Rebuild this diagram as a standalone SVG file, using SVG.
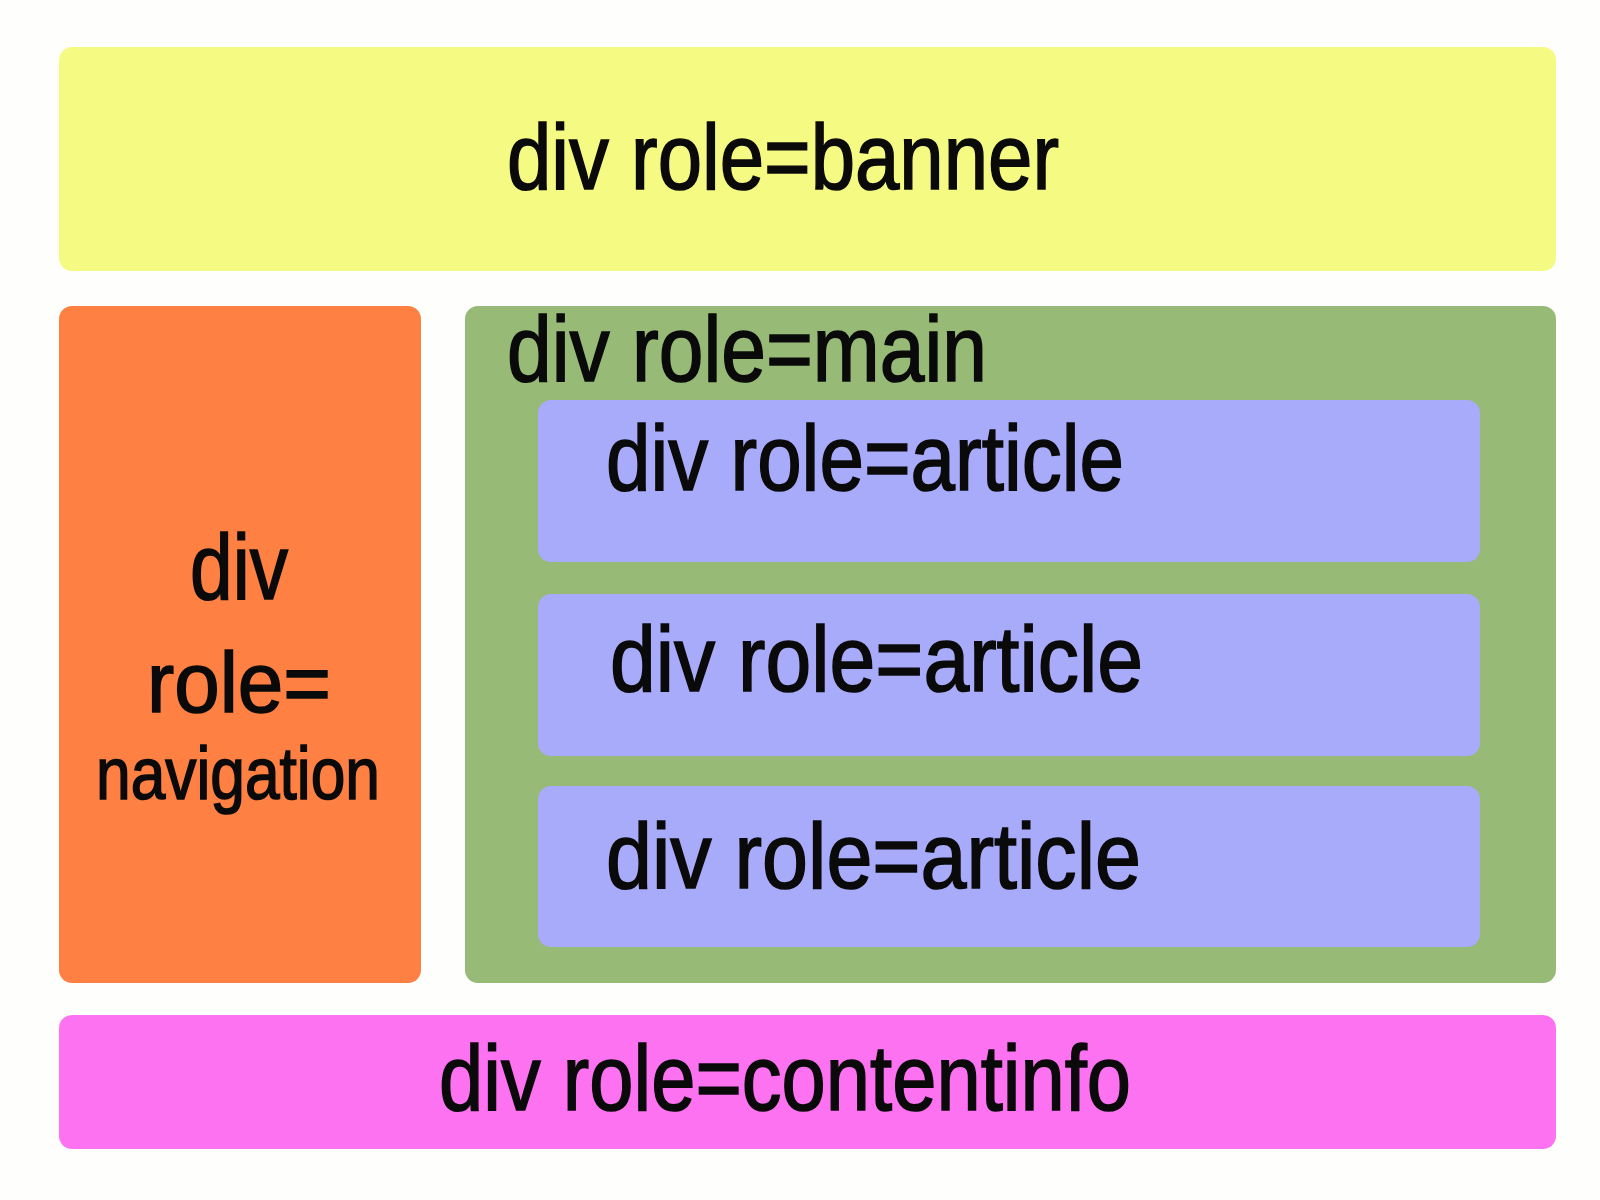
<svg xmlns="http://www.w3.org/2000/svg" width="1600" height="1200" viewBox="0 0 1600 1200">
  <style>
    .box { stroke: none; }
    .lbl { font-family: "Liberation Sans", Arial, sans-serif; font-size: 92px; fill: #0a0a0a; stroke: #0a0a0a; stroke-width: 1.6px; }
    .banner { fill: #F5FB82; }
    .nav { fill: #FE8042; }
    .main { fill: #97BA76; }
    .article { fill: #A8AAFA; }
    .info { fill: #FD72F1; }
  </style>
  <rect x="0" y="0" width="1600" height="1200" fill="#FEFEFC"/>
  <g id="banner">
    <rect class="box banner" x="59" y="47" width="1497" height="224" rx="13"/>
    <text class="lbl" x="507" y="189" textLength="552" lengthAdjust="spacingAndGlyphs">div role=banner</text>
  </g>
  <g id="navigation">
    <rect class="box nav" x="59" y="306" width="362" height="677" rx="13"/>
    <text class="lbl" x="190" y="599" textLength="98" lengthAdjust="spacingAndGlyphs">div</text>
    <text class="lbl" x="147" y="712" style="font-size:86px" textLength="184" lengthAdjust="spacingAndGlyphs">role=</text>
    <text class="lbl" x="96" y="799" style="font-size:74px" textLength="284" lengthAdjust="spacingAndGlyphs">navigation</text>
  </g>
  <g id="main">
    <rect class="box main" x="465" y="306" width="1091" height="677" rx="13"/>
    <text class="lbl" x="507" y="381" textLength="480" lengthAdjust="spacingAndGlyphs">div role=main</text>
  </g>
  <g id="article1">
    <rect class="box article" x="538" y="400" width="942" height="162" rx="13"/>
    <text class="lbl" x="606" y="490" textLength="518" lengthAdjust="spacingAndGlyphs">div role=article</text>
  </g>
  <g id="article2">
    <rect class="box article" x="538" y="594" width="942" height="162" rx="13"/>
    <text class="lbl" x="610" y="691" textLength="533" lengthAdjust="spacingAndGlyphs">div role=article</text>
  </g>
  <g id="article3">
    <rect class="box article" x="538" y="786" width="942" height="161" rx="13"/>
    <text class="lbl" x="606" y="888" textLength="535" lengthAdjust="spacingAndGlyphs">div role=article</text>
  </g>
  <g id="contentinfo">
    <rect class="box info" x="59" y="1015" width="1497" height="134" rx="13"/>
    <text class="lbl" x="439" y="1110" textLength="692" lengthAdjust="spacingAndGlyphs">div role=contentinfo</text>
  </g>
  <g id="connectors"/>
</svg>
